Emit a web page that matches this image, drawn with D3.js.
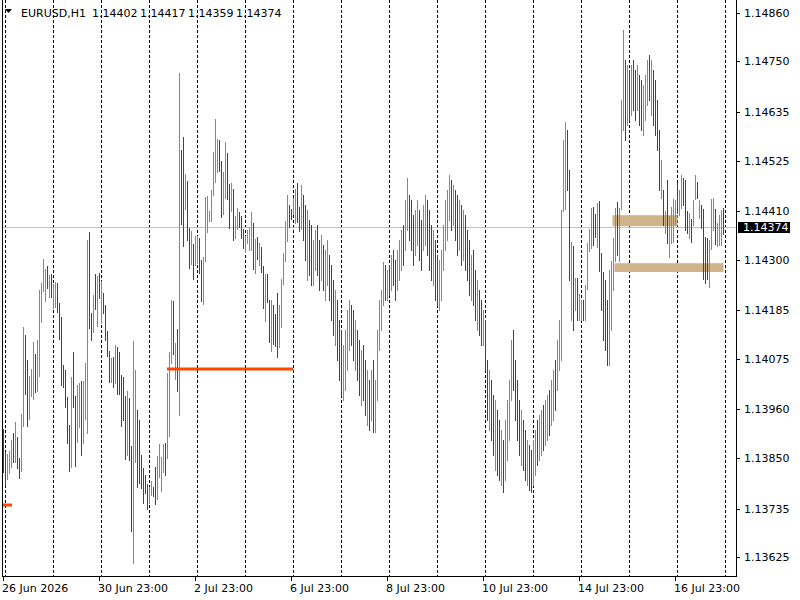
<!DOCTYPE html>
<html><head><meta charset="utf-8">
<script src="https://cdn.jsdelivr.net/npm/d3@7"></script>
<style>html,body{margin:0;padding:0;background:#fff;}svg{display:block;}text{font-family:"DejaVu Sans",sans-serif;font-size:11px;fill:#000;}</style>
</head><body>
<svg id="chart" width="800" height="600"></svg>
<script>
const symbolTitle = "EURUSD,H1";
const ohlcTitle = ["1.14402", "1.14417", "1.14359", "1.14374"];
const lastPrice = 1.14374;
const priceTicks = [1.14860,1.14750,1.14635,1.14525,1.14410,1.14300,1.14185,1.14075,1.13960,1.13850,1.13735,1.13625];
const timeLabels = ["26 Jun 2026","30 Jun 23:00","2 Jul 23:00","6 Jul 23:00","8 Jul 23:00","10 Jul 23:00","14 Jul 23:00","16 Jul 23:00"];
const timeLabelBars = [0,48,96,144,192,240,288,336];
const daySeparatorBars = [1,25,49,73,97,121,145,169,193,217,241,265,289,313,337,361];
const highs = [
1.13916,1.13863,1.13859,1.13866,1.13891,1.13907,1.13932,1.13898,1.13850,1.13950,
1.14147,1.14129,1.14072,1.14036,1.14052,1.14113,1.14086,1.14118,1.14231,1.14247,
1.14302,1.14279,1.14286,1.14265,1.14268,1.14245,1.14249,1.14247,1.14202,1.14170,
1.14061,1.14050,1.13988,1.13925,1.14034,1.14090,1.13991,1.14016,1.14020,1.14025,
1.14025,1.14065,1.14345,1.14363,1.14179,1.14220,1.14268,1.14263,1.14270,1.14252,
1.14224,1.14197,1.14138,1.14093,1.14077,1.14079,1.14106,1.14102,1.14090,1.14038,
1.14034,1.13991,1.14002,1.13986,1.13877,1.14115,1.14050,1.13959,1.13936,1.13857,
1.13827,1.13811,1.13791,1.13784,1.13798,1.13784,1.13829,1.13854,1.13882,1.13852,
1.13882,1.13884,1.14043,1.14090,1.14209,1.14206,1.14111,1.14143,1.14724,1.14549,
1.14579,1.14495,1.14479,1.14372,1.14365,1.14336,1.14354,1.14354,1.14349,1.14299,
1.14306,1.14442,1.14445,1.14411,1.14458,1.14544,1.14619,1.14574,1.14572,1.14524,
1.14499,1.14567,1.14542,1.14472,1.14474,1.14460,1.14399,1.14417,1.14408,1.14399,
1.14370,1.14354,1.14367,1.14374,1.14408,1.14383,1.14347,1.14352,1.14338,1.14329,
1.14286,1.14268,1.14268,1.14209,1.14209,1.14197,1.14177,1.14224,1.14197,1.14256,
1.14315,1.14388,1.14447,1.14424,1.14415,1.14440,1.14460,1.14474,1.14420,1.14470,
1.14447,1.14424,1.14413,1.14390,1.14379,1.14345,1.14367,1.14379,1.14345,1.14356,
1.14333,1.14322,1.14345,1.14311,1.14288,1.14254,1.14231,1.14209,1.14163,1.14140,
1.14106,1.14140,1.14186,1.14209,1.14197,1.14186,1.14163,1.14140,1.14118,1.14095,
1.14106,1.14072,1.14050,1.14027,1.14050,1.14072,1.14027,1.14140,1.14209,1.14231,
1.14295,1.14288,1.14277,1.14288,1.14311,1.14322,1.14299,1.14322,1.14345,1.14367,
1.14379,1.14436,1.14485,1.14447,1.14436,1.14401,1.14413,1.14436,1.14413,1.14390,
1.14424,1.14447,1.14436,1.14413,1.14379,1.14367,1.14345,1.14311,1.14299,1.14322,
1.14379,1.14436,1.14458,1.14492,1.14481,1.14470,1.14458,1.14447,1.14436,1.14424,
1.14413,1.14401,1.14367,1.14345,1.14311,1.14322,1.14277,1.14254,1.14231,1.14209,
1.14186,1.14163,1.14072,1.14050,1.14027,1.13993,1.13982,1.13959,1.13936,1.13913,
1.13891,1.13936,1.13982,1.14027,1.14118,1.14140,1.14072,1.14027,1.13982,1.13959,
1.13936,1.13913,1.13891,1.13879,1.13868,1.13891,1.13913,1.13936,1.13947,1.13959,
1.13970,1.13982,1.13993,1.14004,1.14027,1.14050,1.14072,1.14118,1.14163,1.14413,
1.14572,1.14613,1.14594,1.14504,1.14340,1.14331,1.14259,1.14259,1.14222,1.14209,
1.14209,1.14243,1.14338,1.14370,1.14417,1.14420,1.14404,1.14429,1.14433,1.14315,
1.14272,1.14254,1.14209,1.14277,1.14297,1.14349,1.14417,1.14431,1.14417,1.14663,
1.14821,1.14753,1.14742,1.14731,1.14742,1.14753,1.14731,1.14742,1.14719,1.14708,
1.14697,1.14719,1.14753,1.14765,1.14753,1.14731,1.14708,1.14663,1.14594,1.14526,
1.14458,1.14411,1.14481,1.14399,1.14420,1.14438,1.14436,1.14474,1.14458,1.14492,
1.14485,1.14481,1.14411,1.14406,1.14392,1.14436,1.14492,1.14476,1.14436,1.14424,
1.14415,1.14352,1.14349,1.14345,1.14438,1.14440,1.14415,1.14383,1.14401,1.14413,1.14417];
const lows = [
1.13818,1.13789,1.13802,1.13816,1.13829,1.13841,1.13841,1.13827,1.13804,1.13820,
1.13922,1.13995,1.13922,1.13938,1.13991,1.13984,1.14000,1.14002,1.14036,1.14159,
1.14229,1.14206,1.14236,1.14215,1.14215,1.14190,1.14193,1.14181,1.14120,1.14016,
1.14011,1.13966,1.13884,1.13820,1.13829,1.13966,1.13832,1.13886,1.13920,1.13857,
1.13884,1.13938,1.13907,1.14145,1.14118,1.14136,1.14188,1.14149,1.14213,1.14156,
1.14179,1.14118,1.14081,1.14022,1.14022,1.14011,1.14020,1.13995,1.13995,1.13922,
1.13936,1.13848,1.13857,1.13845,1.13684,1.13611,1.13841,1.13784,1.13793,1.13782,
1.13748,1.13770,1.13734,1.13748,1.13766,1.13764,1.13745,1.13757,1.13807,1.13775,
1.13818,1.13811,1.13850,1.13900,1.14065,1.14086,1.14029,1.14002,1.13947,1.14381,
1.14331,1.14415,1.14345,1.14281,1.14290,1.14256,1.14288,1.14292,1.14270,1.14206,
1.14199,1.14297,1.14363,1.14388,1.14388,1.14447,1.14476,1.14499,1.14501,1.14397,
1.14404,1.14440,1.14438,1.14372,1.14411,1.14345,1.14349,1.14370,1.14374,1.14349,
1.14327,1.14317,1.14338,1.14322,1.14322,1.14279,1.14270,1.14302,1.14288,1.14272,
1.14190,1.14161,1.14204,1.14113,1.14093,1.14109,1.14104,1.14079,1.14102,1.14147,
1.14245,1.14297,1.14342,1.14374,1.14392,1.14404,1.14383,1.14386,1.14365,1.14370,
1.14345,1.14299,1.14254,1.14265,1.14243,1.14243,1.14277,1.14265,1.14231,1.14254,
1.14231,1.14209,1.14243,1.14209,1.14163,1.14129,1.14106,1.14072,1.14027,1.13993,
1.13982,1.14004,1.14050,1.14095,1.14106,1.14072,1.14050,1.14027,1.13993,1.13970,
1.13982,1.13947,1.13925,1.13913,1.13936,1.13909,1.13909,1.13982,1.14095,1.14140,
1.14197,1.14209,1.14209,1.14220,1.14231,1.14243,1.14209,1.14231,1.14254,1.14277,
1.14288,1.14322,1.14367,1.14345,1.14322,1.14288,1.14311,1.14333,1.14299,1.14277,
1.14322,1.14333,1.14311,1.14277,1.14254,1.14243,1.14209,1.14197,1.14186,1.14209,
1.14277,1.14322,1.14345,1.14390,1.14367,1.14379,1.14345,1.14311,1.14322,1.14288,
1.14299,1.14277,1.14254,1.14220,1.14209,1.14197,1.14163,1.14140,1.14129,1.14106,
1.14106,1.14050,1.13936,1.13913,1.13891,1.13857,1.13823,1.13811,1.13800,1.13789,
1.13773,1.13800,1.13845,1.13891,1.13982,1.14004,1.13936,1.13891,1.13857,1.13834,
1.13823,1.13800,1.13789,1.13777,1.13773,1.13789,1.13811,1.13834,1.13845,1.13857,
1.13868,1.13879,1.13891,1.13902,1.13925,1.13936,1.13959,1.14004,1.14050,1.14072,
1.14411,1.14415,1.14458,1.14254,1.14163,1.14140,1.14186,1.14163,1.14163,1.14163,
1.14163,1.14163,1.14233,1.14320,1.14326,1.14333,1.14352,1.14329,1.14274,1.14186,
1.14118,1.14095,1.14061,1.14061,1.14140,1.14231,1.14297,1.14311,1.14297,1.14415,
1.14594,1.14572,1.14606,1.14617,1.14628,1.14640,1.14617,1.14640,1.14606,1.14594,
1.14583,1.14617,1.14651,1.14663,1.14628,1.14606,1.14583,1.14549,1.14458,1.14440,
1.14379,1.14361,1.14338,1.14306,1.14338,1.14340,1.14381,1.14406,1.14401,1.14417,
1.14424,1.14367,1.14361,1.14349,1.14340,1.14379,1.14438,1.14440,1.14395,1.14372,
1.14256,1.14247,1.14256,1.14238,1.14324,1.14367,1.14336,1.14331,1.14333,1.14333,1.14359];
const directions = ("rrgggrgrrg"+"grrgggrggg"+"ggrgrggrrr"+"rrrrgrrggr"+"gggrrgrgrg"+
 "rrrrgrgrrr"+"rrgrrggrrr"+"rrrggrrggg"+"grgggrgrgr"+"rgrrgrggrr"+
 "ggggggggrr"+"ggrrgrggrr"+"rggggrgrgr"+"rgrrgrrrgg"+"gggrrggrrg"+
 "rrgrrggrrg"+"rggrrrgrrr"+"ggggrrgrrg"+"rrgrgrgggg"+"grgrgrrggg"+
 "rggrrrggrr"+"ggrrrgrrgg"+"ggggrgrrgr"+"grrrgrrgrr"+"grrgrrgrrg"+
 "rggggrrrrg"+"rrgrrggrgg"+"rggrggrggg"+"ggrrgrgrgg"+"rggggrrgrr"+
 "rrrggggrgg"+"grgrgrrgrr"+"gggrgrrrrg"+"rgrggggrgg"+"rrrgrggrgr"+
 "rrrgggrggg"+"r").split("");
// drawn objects
const trendLevels = [{from:82, to:145, price:1.14052}, {from:0, to:4.5, price:1.13743}];
const zones = [{from:305, to:337, top:1.14401, bottom:1.14376}, {from:306, to:360, top:1.14292, bottom:1.14272}];

const svg = d3.select("#chart");
const left = 2, right = 736, bottom = 576;
const x = d3.scaleLinear().domain([0, 361]).range([3, 725]);
const y = d3.scaleLinear().domain([1.14860, 1.13625]).range([13, 557]);
const px = v => Math.round(x(v)) + 0.5;

// day separators
svg.append("g").selectAll("line").data(daySeparatorBars).join("line")
  .attr("x1", d => px(d)).attr("x2", d => px(d)).attr("y1", 0).attr("y2", bottom)
  .attr("stroke", "#000").attr("stroke-dasharray", "3,2").attr("shape-rendering", "crispEdges");

// zones
svg.append("g").selectAll("rect").data(zones).join("rect")
  .attr("x", d => x(d.from) - 0.5).attr("width", d => x(d.to) - x(d.from) + 1)
  .attr("y", d => y(d.top)).attr("height", d => y(d.bottom) - y(d.top))
  .attr("fill", "#d2b48c");

// current price line
svg.append("line").attr("x1", left).attr("x2", right).attr("y1", Math.round(y(lastPrice)) + 0.5).attr("y2", Math.round(y(lastPrice)) + 0.5)
  .attr("stroke", "#c0c0c0").attr("shape-rendering", "crispEdges");

// bars
const bars = highs.map((h, i) => ({i, h, l: lows[i], up: directions[i] === "g"}));
svg.append("g").selectAll("line").data(bars).join("line")
  .attr("x1", d => px(d.i)).attr("x2", d => px(d.i))
  .attr("y1", d => Math.round(y(d.h))).attr("y2", d => Math.round(y(d.l)) + 1)
  .attr("stroke", d => d.up ? "#3cba3c" : "#e00000").attr("stroke-width", 1)
  .attr("shape-rendering", "crispEdges");

// trend levels
svg.append("g").selectAll("line").data(trendLevels).join("line")
  .attr("x1", d => x(d.from)).attr("x2", d => x(d.to))
  .attr("y1", d => y(d.price)).attr("y2", d => y(d.price))
  .attr("stroke", "#ff4500").attr("stroke-width", 3);

// frame
svg.append("path").attr("d", `M${left+0.5},0V${bottom+0.5}H${right+0.5}V0`)
  .attr("fill", "none").attr("stroke", "#000").attr("shape-rendering", "crispEdges");

// price axis
const pa = svg.append("g");
pa.selectAll("line").data(priceTicks).join("line")
  .attr("x1", right).attr("x2", right + 4)
  .attr("y1", d => Math.round(y(d)) + 0.5).attr("y2", d => Math.round(y(d)) + 0.5)
  .attr("stroke", "#000").attr("shape-rendering", "crispEdges");
pa.selectAll("text").data(priceTicks).join("text")
  .attr("x", 744).attr("y", d => y(d)).attr("dy", "0.36em")
  .text(d => d.toFixed(5));

// last price label
const ly = y(lastPrice);
svg.append("rect").attr("x", 738).attr("y", Math.round(ly) - 5).attr("width", 52).attr("height", 11).attr("fill", "#000");
svg.append("text").attr("x", 743).attr("y", ly).attr("dy", "0.36em").style("fill", "#fff").text(lastPrice.toFixed(5));

// time axis
const ta = svg.append("g");
ta.selectAll("line").data(timeLabelBars).join("line")
  .attr("x1", d => px(d)).attr("x2", d => px(d)).attr("y1", bottom).attr("y2", bottom + 5)
  .attr("stroke", "#000").attr("shape-rendering", "crispEdges");
ta.selectAll("text").data(timeLabels).join("text")
  .attr("x", (d, i) => Math.round(x(timeLabelBars[i])) - 1).attr("y", 592)
  .text(d => d);

// title
svg.append("path").attr("d", "M5,9H12L8.5,13Z").attr("fill", "#000");
svg.append("text").attr("x", 21).attr("y", 17).text(symbolTitle);
svg.append("g").selectAll("text").data(ohlcTitle).join("text")
  .attr("x", (d, i) => 92 + i * 48).attr("y", 17).text(d => d);
</script>
</body></html>
